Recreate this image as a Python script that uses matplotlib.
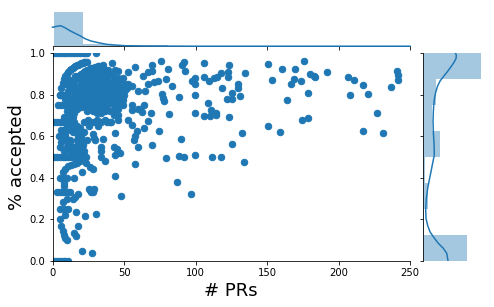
import matplotlib
matplotlib.use('Agg')
import matplotlib.pyplot as plt

# points, grouped by area
arc_x = [5, 6, 7, 8, 9, 10, 11, 12, 13, 14, 15, 16, 17, 18, 19, 20, 21, 22, 23, 24,
         10, 11, 12, 13, 14, 15, 16, 17, 18, 19, 20, 21, 22, 23, 24, 25, 26, 27, 28, 30, 32, 35,
         15, 16, 17, 18, 19, 20, 21, 22, 23, 24, 25, 26, 27, 28, 30, 32, 34, 37,
         20, 21, 22, 23, 24, 25, 26, 27, 28, 29, 30, 32, 34, 36, 38, 40]
arc_y = [.8, .833, .857, .875, .889, .9, .909, .917, .923, .929, .933, .938, .941, .944, .947, .95, .952, .955, .957, .958,
         .8, .818, .833, .846, .857, .867, .875, .882, .889, .895, .9, .905, .909, .913, .917, .92, .923, .926, .929, .933, .938, .943,
         .8, .813, .824, .833, .842, .85, .857, .864, .87, .875, .88, .885, .889, .893, .9, .906, .912, .919,
         .8, .81, .818, .826, .833, .84, .846, .852, .857, .862, .867, .875, .882, .889, .895, .9]
blob_x = [9, 11, 13, 15, 17, 19, 21, 23, 25, 27, 29, 31, 33, 35, 37, 39, 41, 43, 45, 47,
          12, 14, 16, 18, 20, 22, 24, 26, 28, 30, 32, 34, 36, 38, 40, 42, 44, 46, 48, 50,
          9, 11, 14, 17, 20, 23, 26, 29, 32, 35, 38, 41, 44, 47, 49, 51, 53,
          10, 12, 15, 24, 28, 31, 34, 37, 40, 43, 46, 49,
          8, 10, 12, 14, 22, 25, 28, 31, 34, 37, 40, 43, 46,
          9, 12, 15, 18, 21, 24, 27, 30, 33, 36, 39, 42,
          12, 16, 20, 24, 28, 32, 36, 45, 47,
          25, 29, 33, 37, 41, 45, 30, 34, 38, 42, 46, 50, 27, 31, 35, 39, 43, 47,
          26, 30, 34, 38, 42, 23, 27, 31, 35, 39, 43, 44, 48]
blob_y = [.78, .78, .77, .78, .77, .78, .77, .78, .79, .78, .8, .79, .8, .79, .81, .8, .81, .8, .82, .81,
          .76, .76, .75, .75, .76, .75, .76, .75, .76, .77, .76, .77, .76, .78, .77, .78, .77, .79, .78, .8,
          .75, .74, .74, .73, .74, .74, .73, .73, .74, .74, .75, .76, .75, .77, .79, .82, .85,
          .72, .71, .71, .72, .72, .71, .71, .72, .72, .73, .73, .75,
          .69, .69, .68, .69, .67, .68, .67, .68, .67, .68, .67, .7, .7,
          .85, .85, .84, .82, .83, .82, .84, .82, .84, .83, .85, .84,
          .87, .89, .87, .9, .89, .87, .85, .87, .85,
          .8, .81, .82, .8, .83, .84, .87, .86, .87, .86, .88, .85, .84, .83, .85, .82, .82, .83,
          .9, .9, .89, .87, .89, .83, .81, .78, .8, .79, .84, .87, .83]
edge_x = [41.4, 44, 32.7, 39, 46, 53, 58, 49.4, 55.8, 51.9, 49, 46, 45, 46, 38, 41, 32, 25.7, 28, 29, 30, 35]
edge_y = [.95, .92, .937, .92, .915, .91, .935, .88, .84, .83, .775, .75, .7, .68, .67, .67, .65, .65, .61, .59, .58, .585]
row_x = [1, 3, 5, 7, 9, 11, 13, 15, 17, 19, 21, 23, 24, 30.6,
         1, 3, 5, 7, 9, 11, 13, 15,
         4, 6, 8,
         5, 7, 9, 10,
         1, 3, 5, 7, 9, 11, 13, 15, 17, 19, 21, 23.4,
         3, 5, 7, 9, 11, 12,
         1, 3, 5, 7, 9, 11]
row_y = [1, 1, 1, 1, 1, 1, 1, 1, 1, 1, 1, 1, 1, 1,
         .667, .667, .667, .667, .667, .667, .667, .667,
         .75, .75, .75,
         .8, .8, .8, .8,
         .5, .5, .5, .5, .5, .5, .5, .5, .5, .5, .5, .5,
         .333, .333, .333, .333, .333, .333,
         0, 0, 0, 0, 0, 0]
low_x = [4.7, 8, 11, 14, 12, 11, 14, 18, 20, 8, 10, 7, 9, 12, 15, 18, 20, 22, 10, 13, 16, 19, 22, 24,
         34, 37, 34, 44, 45, 47, 23.5, 26, 28, 19.4, 7, 9, 11, 13, 15, 17, 20.8, 15.2, 9.8, 5, 7, 8, 8,
         25.7, 29, 27, 26, 28, 7, 10, 14, 16, 18, 5, 8, 11, 5, 9, 6, 7, 8, 8.5, 10,
         30.6, 22.9, 16.6, 18, 15, 16.6, 20.8, 27.8, 43.9, 48, 57.9, 5, 8, 16, 22,
         6, 9, 17, 20, 16, 19, 21, 15, 18, 6, 12, 17]
low_y = [.6, .63, .63, .62, .58, .56, .55, .6, .55, .58, .55, .62, .6, .53, .54, .57, .6, .53, .65, .64, .63, .64, .62, .58,
         .5, .48, .53, .51, .54, .52, .47, .45, .44, .48, .43, .444, .455, .462, .467, .47, .426, .397, .4, .4, .4, .375, .36,
         .345, .345, .33, .34, .33, .285, .3, .3, .31, .32, .25, .25, .25, .2, .222, .167, .143, .125, .11, .1,
         .225, .215, .234, .167, .133, .119, .047, .037, .407, .311, .465, .55, .53, .52, .51,
         .57, .6, .58, .58, .55, .53, .56, .52, .62, .63, .57, .65]
mid_x = [76.1, 69.4, 80.6, 90.3, 92.2, 92.9, 106.2, 123.6, 134.8, 118, 106.2, 99.6, 97.5, 99.6, 109.7, 113.1, 115.2,
         122.9, 122.9, 118.7, 130, 130, 125.7, 125.7, 122.2, 131.3, 99.9, 88.7, 83.4, 79.2, 74, 71.2, 67, 63.5, 67, 69.8,
         76.8, 77.5, 78.2, 60, 64.9, 64.2, 55.8, 60, 55.8, 61, 62.7, 69.1, 81.7, 99.9, 106, 110, 114, 111, 114, 109, 123.6,
         67, 53, 55.8, 64.2, 59.3, 58, 57, 74.7, 43.9, 132.7, 90.1, 125.7, 59.9, 69.7, 43, 34,
         79.2, 88.7, 92.2, 99.9, 111.8, 118, 134.1, 87.3, 97.1]
mid_y = [.96, .941, .922, .941, .955, .912, .95, .941, .902, .902, .883, .878, .864, .849, .864, .878, .883,
         .907, .883, .83, .849, .83, .806, .777, .777, .792, .797, .787, .84, .874, .864, .859, .849, .888, .907, .912,
         .801, .782, .767, .816, .816, .749, .749, .73, .725, .73, .715, .71, .705, .71, .695, .695, .71, .725, .7, .758, .691,
         .671, .676, .652, .638, .623, .6, .58, .623, .613, .613, .585, .561, .547, .556, .55, .55,
         .494, .503, .499, .508, .499, .499, .475, .378, .321]
far_x = [151, 160.7, 169.8, 176, 153.7, 169, 167, 174, 180.3, 183.8, 183, 192.2, 206.9, 211, 217.4, 220.8, 208.3, 237,
         241, 241.8, 241.8, 178.9, 164.2, 227, 178.9, 174.7, 151, 159.3, 217.4, 231.3]
far_y = [.949, .921, .921, .96, .869, .873, .849, .864, .898, .883, .89, .907, .883, .869, .845, .801, .797, .835,
         .912, .894, .869, .806, .773, .71, .686, .676, .648, .619, .623, .613]

pr_x = arc_x + blob_x + edge_x + row_x + low_x + mid_x + far_x
pr_y = arc_y + blob_y + edge_y + row_y + low_y + mid_y + far_y

# marginals
top_left = [1, 21, 41, 61, 81, 101, 121, 141, 161, 181, 201, 221]
top_hist = [.035, .0023, .0012, .0009, .0006, .0005, .0003, .0004, .0002, .0002, .0002, .0002]
top_kde_x = [0, 3, 5.8, 8.7, 12.2, 15.7, 19.2, 22.7, 26.9, 32, 37.9, 43.8, 50.7, 64.7, 100, 250]
top_kde_y = [.0194, .0204, .0210, .019, .0159, .0133, .0108, .0078, .0054, .0037, .002, .0013, .0006, .0003, .0001, .0001]
right_bottom = [0, .125, .25, .375, .5, .625, .75, .875]
right_hist = [2.215, .065, .265, .115, .865, .48, .665, 2.92]
right_kde_y = [0, .037, .061, .085, .11, .14, .17, .205, .245, .30, .35, .39, .43, .486, .51, .566, .622, .67, .718, .75,
               .79, .817, .843, .865, .886, .91, .939, .958, .974, .99, 1]
right_kde_x = [1.265, 1.2, 1.03, .78, .58, .365, .25, .165, .15, .18, .25, .33, .415, .53, .58, .565, .53, .515, .53, .55,
               .6, .665, .75, .865, 1.03, 1.23, 1.45, 1.58, 1.665, 1.68, 1.63]

blue = '#1f77b4'
W, H = 494, 307
fig = plt.figure(figsize=(W / 72, H / 72), dpi=72)
ax = fig.add_axes([52.5 / W, 1 - 261 / H, 357.5 / W, 208 / H])
top = fig.add_axes([52.5 / W, 1 - 46.3 / H, 357.5 / W, 34.3 / H], sharex=ax)
right = fig.add_axes([422.7 / W, 1 - 261 / H, 58.5 / W, 208 / H], sharey=ax)

ax.scatter(pr_x, pr_y, color=blue, s=42)
ax.set_xlim(0, 250)
ax.set_ylim(0, 1)
ax.set_xlabel('# PRs', fontsize=18, labelpad=4)
ax.set_ylabel('% accepted', fontsize=18, labelpad=4)
ax.spines[['top', 'right']].set_visible(False)

top.bar(top_left, top_hist, width=20, align='edge', color=blue, alpha=.4)
top.plot(top_kde_x, top_kde_y, color=blue, zorder=3, clip_on=False)
top.set_ylim(0, .035)
top.spines[['top', 'right', 'left']].set_visible(False)
top.tick_params(labelbottom=False, left=False, labelleft=False)

right.barh(right_bottom, right_hist, height=.125, align='edge', color=blue, alpha=.4)
right.plot(right_kde_x, right_kde_y, color=blue)
right.set_xlim(0, 2.92)
right.spines[['top', 'right', 'bottom']].set_visible(False)
right.tick_params(labelleft=False, bottom=False, labelbottom=False)

fig.savefig('out.png', dpi=72)
